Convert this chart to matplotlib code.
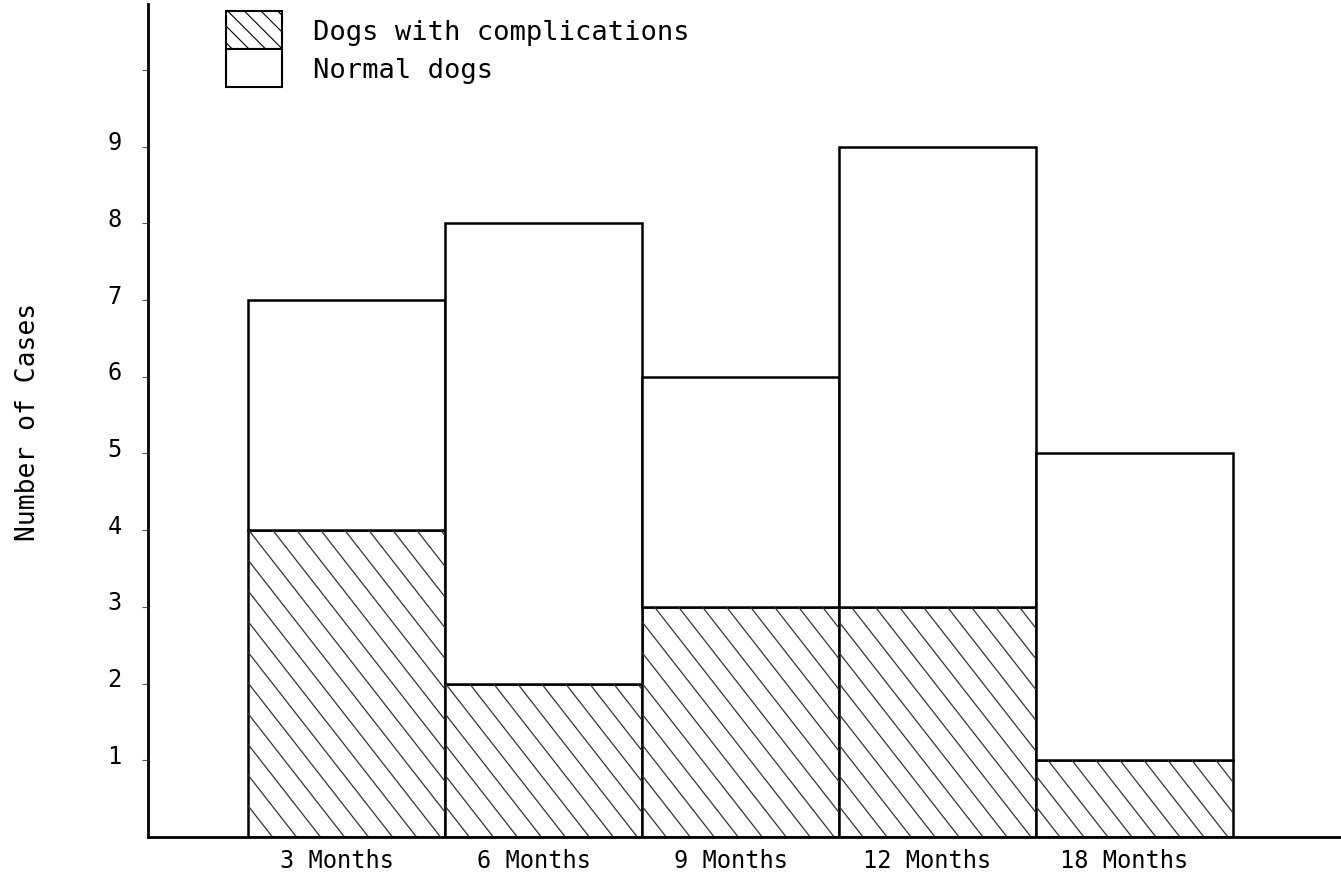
import numpy as np
import matplotlib
matplotlib.use("Agg")
import matplotlib.pyplot as plt
import matplotlib.transforms as mtransforms
from matplotlib.collections import LineCollection
from matplotlib.patches import Patch

# values
periods = ["3 Months", "6 Months", "9 Months", "12 Months", "18 Months"]
complications = [4, 2, 3, 3, 1]
normal = [3, 6, 3, 6, 4]
ytick_vals = [1, 2, 3, 4, 5, 6, 7, 8, 9, 10]
ytick_labels = ["1", "2", "3", "4", "5", "6", "7", "8", "9", ""]

plt.rcParams["font.family"] = ["DejaVu Sans Mono"]
plt.rcParams["hatch.linewidth"] = 0.8

fig = plt.figure(figsize=(13.41, 8.78), dpi=100)
ax = fig.add_axes([0.1104, 0.0456, 0.8896, 0.9487])
ax.set_xlim(-1.01, 5.05)
ax.set_ylim(0, 10.86)

x = np.arange(len(periods))
b1 = ax.bar(x, complications, width=1.0, color="white", edgecolor="black",
            linewidth=1.8)
b2 = ax.bar(x, normal, width=1.0, bottom=complications, color="white",
            edgecolor="black", linewidth=1.8)

# hand drawn looking hatching: sparse, steep diagonal lines clipped to each bar
px_x = ax.transData.transform((1, 0))[0] - ax.transData.transform((0, 0))[0]
px_y = ax.transData.transform((0, 1))[1] - ax.transData.transform((0, 0))[1]
gap = 24 / px_x          # horizontal spacing between hatch lines
run = 1 / 1.28 * px_y / px_x   # x shift per unit of y
for p in b1.patches:
    x0, y0, w, h = p.get_x(), p.get_y(), p.get_width(), p.get_height()
    starts = np.arange(x0 - h * run, x0 + w + gap, gap)
    segs = [[(c, y0 + h), (c + h * run, y0)] for c in starts]
    lc = LineCollection(segs, colors="#333333", linewidths=0.9, zorder=p.get_zorder() + 0.1)
    ax.add_collection(lc)
    lc.set_clip_path(p)

for s in ["top", "right"]:
    ax.spines[s].set_visible(False)
ax.spines["left"].set_linewidth(2)
ax.spines["bottom"].set_linewidth(2)

ax.set_xticks(x)
ax.set_xticklabels(periods, fontsize=17)
ax.tick_params(axis="x", length=0, pad=8)
for lab in ax.get_xticklabels():
    lab.set_transform(lab.get_transform() + mtransforms.ScaledTranslation(-0.1, 0, fig.dpi_scale_trans))

ax.set_yticks(ytick_vals)
ax.set_yticklabels(ytick_labels, fontsize=17)
ax.tick_params(axis="y", direction="out", length=4, width=0.8, pad=15, colors="#555555")
for lab in ax.get_yticklabels():
    lab.set_color("black")
    lab.set_transform(lab.get_transform() + mtransforms.ScaledTranslation(0, 0.07, fig.dpi_scale_trans))

ax.set_ylabel("Number of Cases", fontsize=19, labelpad=48)

handles = [Patch(facecolor="white", edgecolor="black", linewidth=1.5, hatch="\\\\"),
           Patch(facecolor="white", edgecolor="black", linewidth=1.5)]
ax.legend(handles=handles, labels=["Dogs with complications", "Normal dogs"],
          loc="upper left", bbox_to_anchor=(0.0654, 0.9916),
          frameon=False, fontsize=19.5, labelspacing=0, handlelength=2.07,
          handleheight=1.79, handletextpad=1.15, borderaxespad=0, borderpad=0)

fig.savefig("out.png", dpi=100)
